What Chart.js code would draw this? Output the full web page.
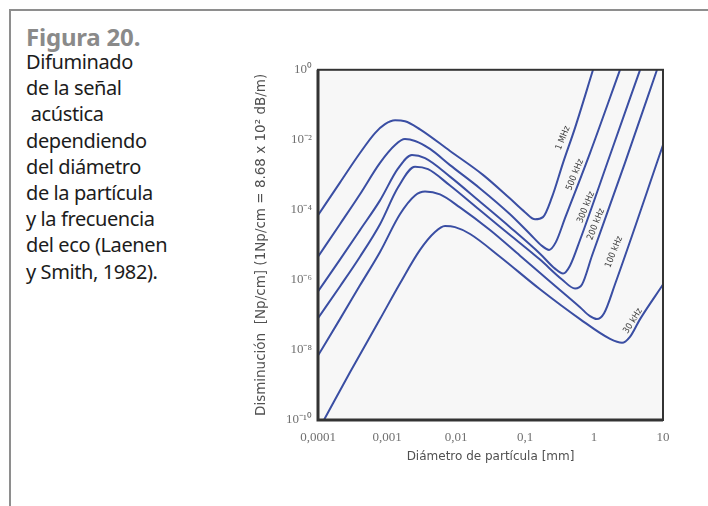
<!DOCTYPE html>
<html>
<head>
<meta charset="utf-8">
<script src="https://cdn.jsdelivr.net/npm/chart.js@4.4.1/dist/chart.umd.min.js"></script>
<style>
  html, body { margin: 0; padding: 0; background: #fff; }
  body { width: 708px; height: 506px; position: relative; overflow: hidden; }
  #frame {
    position: absolute; left: 9px; top: 9px; width: 710px; height: 510px;
    border-top: 2px solid #8e8e8e; border-left: 2px solid #8e8e8e;
  }
  #caption {
    position: absolute; left: 26px; top: 22px;
    font-family: "Noto Sans", "Open Sans", sans-serif; font-size: 20px;
    line-height: 26.2px; color: #1c1c1c; letter-spacing: -0.4px;
  }
  #caption b { color: #8a8a8a; font-size: 24px; display: block; line-height: 30px; margin-bottom: -3px; letter-spacing: -0.2px; }
  #wrap { position: absolute; left: 250px; top: 56px; width: 430px; height: 420px; }
</style>
</head>
<body>
<div id="frame"></div>
<div id="caption">
  <b>Figura 20.</b>
  Difuminado<br>
  de la señal<br>
  &nbsp;acústica<br>
  dependiendo<br>
  del diámetro<br>
  de la partícula<br>
  y la frecuencia<br>
  del eco (Laenen<br>
  y Smith, 1982).
</div>
<div id="wrap"><canvas id="chart" width="430" height="420"></canvas></div>
<script>
// particle diameter [mm] and attenuation [Np/cm]
const d1MHz = [1.0e-4, 2.08e-4, 4.06e-4, 6.7e-4, 9.36e-4, 1.31e-3, 1.82e-3, 3.01e-3, 8.19e-3, 2.46e-2, 6.07e-2, 0.1, 0.14, 0.182, 0.246, 0.356, 0.531, 0.968];
const a1MHz = [7.0e-5, 6.0e-4, 4.2e-3, 1.56e-2, 2.8e-2, 3.6e-2, 3.4e-2, 2.0e-2, 4.8e-3, 1.0e-3, 2.1e-4, 8.6e-5, 5.4e-5, 6.2e-5, 2.3e-4, 2.2e-3, 2.2e-2, 1.0];

const d500k = [1.0e-4, 2.08e-4, 4.06e-4, 7.92e-4, 1.31e-3, 1.82e-3, 2.55e-3, 4.2e-3, 8.19e-3, 2.23e-2, 6.07e-2, 0.118, 0.176, 0.223, 0.28, 0.38, 0.875, 2.38];
const a500k = [4.6e-6, 3.9e-5, 2.8e-4, 2.2e-3, 7.1e-3, 1.05e-2, 9.3e-3, 5.5e-3, 1.9e-3, 4.1e-4, 7.5e-5, 2.05e-5, 9.4e-6, 7.2e-6, 1.2e-5, 5.8e-5, 4.2e-3, 1.0];

const d300k = [1.0e-4, 2.08e-4, 4.06e-4, 7.92e-4, 1.44e-3, 2.3e-3, 3.56e-3, 8.19e-3, 2.23e-2, 6.07e-2, 0.165, 0.272, 0.356, 0.449, 0.627, 1.71, 4.65];
const a300k = [4.7e-7, 3.8e-6, 2.65e-5, 1.87e-4, 1.5e-3, 3.7e-3, 3.0e-3, 8.9e-4, 1.7e-4, 3.2e-5, 5.6e-6, 2.1e-6, 1.52e-6, 2.55e-6, 1.38e-5, 3.7e-3, 1.0];

const d200k = [1.0e-4, 2.08e-4, 4.06e-4, 7.92e-4, 1.44e-3, 2.55e-3, 3.93e-3, 8.19e-3, 2.23e-2, 6.07e-2, 0.165, 0.344, 0.531, 0.67, 0.935, 2.81, 8.19];
const a200k = [8.1e-8, 6.5e-7, 4.6e-6, 3.9e-5, 4.35e-4, 1.71e-3, 1.45e-3, 4.95e-4, 9.7e-5, 1.92e-5, 3.8e-6, 1.03e-6, 5.7e-7, 7.4e-7, 4.9e-6, 2.2e-3, 1.0];

const d100k = [1.0e-4, 2.08e-4, 4.06e-4, 7.92e-4, 1.54e-3, 2.55e-3, 3.56e-3, 5.86e-3, 1.14e-2, 3.11e-2, 8.47e-2, 0.23, 0.627, 0.875, 1.1, 1.4, 2.01, 10];
const a100k = [6.9e-9, 7.6e-8, 7.0e-7, 6.3e-6, 7.5e-5, 2.58e-4, 3.35e-4, 2.76e-4, 1.18e-4, 2.65e-5, 4.9e-6, 9.0e-7, 1.66e-7, 9.2e-8, 7.6e-8, 1.12e-7, 7.4e-7, 7.1e-3];

const d30k = [1.22e-4, 2.91e-4, 7.92e-4, 1.54e-3, 3.01e-3, 4.96e-3, 6.93e-3, 9.68e-3, 1.6e-2, 4.34e-2, 0.165, 0.627, 1.71, 2.55, 3.32, 4.65, 10];
const a30k = [1.0e-10, 2.3e-9, 7.6e-8, 7.9e-7, 7.2e-6, 2.33e-5, 3.44e-5, 3.22e-5, 2.05e-5, 4.6e-6, 5.4e-7, 7.6e-8, 2.07e-8, 1.6e-8, 2.36e-8, 7.6e-8, 7.4e-7];

// curve names and where they are written (diameter, attenuation)
const curveNames = ['1 MHz', '500 kHz', '300 kHz', '200 kHz', '100 kHz', '30 kHz'];
const nameDiam = [0.356, 0.531, 0.766, 1.07, 1.95, 3.67];
const nameAten = [1.12e-2, 1.0e-3, 1.18e-4, 3.9e-5, 6.3e-6, 6.7e-8];

// axis ticks
const xTicks = [1e-4, 1e-3, 1e-2, 1e-1, 1, 10];
const xTickLabels = ['0,0001', '0,001', '0,01', '0,1', '1', '10'];
const yTicks = [1e-10, 1e-8, 1e-6, 1e-4, 1e-2, 1];
const yTickLabels = ['10⁻¹⁰', '10⁻⁸', '10⁻⁶', '10⁻⁴', '10⁻²', '10⁰'];

const xs = [d1MHz, d500k, d300k, d200k, d100k, d30k];
const ys = [a1MHz, a500k, a300k, a200k, a100k, a30k];

const lineColor = '#3a4ea3';

const datasets = curveNames.map((name, i) => ({
  label: name,
  data: xs[i].map((d, j) => ({ x: d, y: ys[i][j] })),
  borderColor: lineColor,
  borderWidth: 2,
  pointRadius: 0,
  fill: false,
  cubicInterpolationMode: 'monotone'
}));

// light plot background plus the dark box round it
const plotBox = {
  id: 'plotBox',
  beforeDatasetsDraw(chart) {
    const a = chart.chartArea, c = chart.ctx;
    c.save();
    c.fillStyle = '#f7f7f7';
    c.fillRect(a.left, a.top, a.right - a.left, a.bottom - a.top);
    c.restore();
  },
  afterDatasetsDraw(chart) {
    const a = chart.chartArea, c = chart.ctx;
    c.save();
    c.strokeStyle = '#333';
    c.lineWidth = 2;
    c.strokeRect(a.left, a.top, a.right - a.left, a.bottom - a.top);
    // left and bottom sides are heavier
    c.lineWidth = 3;
    c.beginPath();
    c.moveTo(a.left, a.top);
    c.lineTo(a.left, a.bottom);
    c.lineTo(a.right, a.bottom);
    c.stroke();
    c.restore();
  }
};

// frequency names written along the rising branches
const curveTags = {
  id: 'curveTags',
  afterDatasetsDraw(chart) {
    const c = chart.ctx;
    const sx = chart.scales.x, sy = chart.scales.y;
    c.save();
    c.fillStyle = '#3c3c3c';
    c.font = '9px "DejaVu Sans Condensed", "DejaVu Sans", sans-serif';
    c.textAlign = 'center';
    c.textBaseline = 'middle';
    curveNames.forEach((name, i) => {
      const px = sx.getPixelForValue(nameDiam[i]);
      const py = sy.getPixelForValue(nameAten[i]);
      c.save();
      c.translate(px, py);
      c.rotate((i === 5 ? -58 : -68) * Math.PI / 180);
      c.fillText(name, 0, 0);
      c.restore();
    });
    c.restore();
  }
};

new Chart(document.getElementById('chart').getContext('2d'), {
  type: 'line',
  data: { datasets: datasets },
  plugins: [plotBox, curveTags],
  options: {
    responsive: false,
    animation: false,
    layout: { padding: { top: 10, right: 17, left: 0, bottom: 0 } },
    plugins: { legend: { display: false }, tooltip: { enabled: false } },
    scales: {
      x: {
        type: 'logarithmic',
        min: 1e-4,
        max: 10,
        afterBuildTicks: s => { s.ticks = xTicks.map(v => ({ value: v })); },
        afterFit: s => { s.height = 56; },
        grid: { display: false, drawTicks: false },
        border: { display: false },
        ticks: {
          autoSkip: false,
          maxRotation: 0,
          padding: 10,
          color: '#707070',
          font: { family: '"Liberation Serif", serif', size: 13 },
          callback: (v, i) => xTickLabels[i]
        },
        title: {
          display: true,
          text: 'Diámetro de partícula [mm]',
          color: '#505050',
          font: { family: '"DejaVu Sans", sans-serif', size: 12 },
          padding: { top: 0, bottom: 12 }
        }
      },
      y: {
        type: 'logarithmic',
        min: 1e-10,
        max: 1,
        afterBuildTicks: s => { s.ticks = yTicks.map(v => ({ value: v })); },
        afterFit: s => { s.width = 68; },
        grid: { display: false, drawTicks: false },
        border: { display: false },
        ticks: {
          autoSkip: false,
          padding: 6,
          color: '#707070',
          font: { family: '"Liberation Serif", serif', size: 13 },
          callback: (v, i) => yTickLabels[i]
        },
        title: {
          display: true,
          text: 'Disminución  [Np/cm] (1Np/cm = 8.68 x 10² dB/m)',
          color: '#505050',
          font: { family: '"DejaVu Sans", sans-serif', size: 13.5 },
          padding: { top: 3, bottom: 0 }
        }
      }
    }
  }
});
</script>
</body>
</html>
